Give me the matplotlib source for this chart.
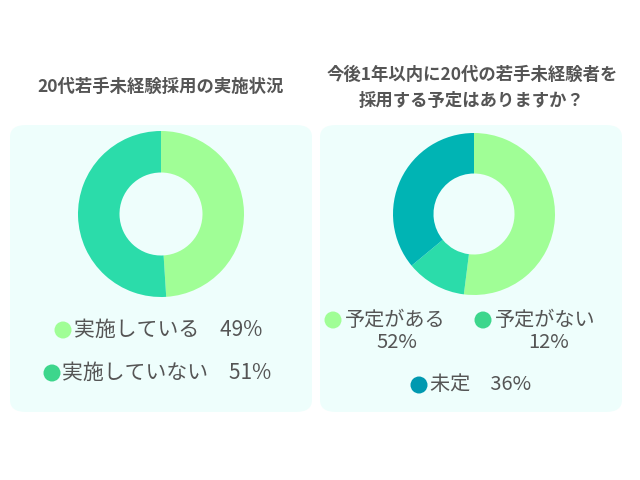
import matplotlib
matplotlib.use('Agg')
import matplotlib.pyplot as plt
from matplotlib.patches import FancyBboxPatch, Circle

plt.rcParams['font.family'] = ['Noto Sans CJK JP', 'DejaVu Sans']

# data for the two donuts
left_title = '20代若手未経験採用の実施状況'
left_labels = ['実施している', '実施していない']
left_values = [49, 51]

right_title = '今後1年以内に20代の若手未経験者を\n採用する予定はありますか？'
right_labels = ['予定がある', '予定がない', '未定']
right_values = [52, 12, 36]

slice_colors = ['#a0fe96', '#2bdcaa', '#00b4b4']
dot_colors = ['#a0fe96', '#3dd68c', '#0099b0']
panel_color = '#eefefc'
text_color = '#555555'

W, H = 640, 480
fig = plt.figure(figsize=(6.4, 4.8), dpi=100)
fig.patch.set_facecolor('white')


def px(x, y):
    # pixel coords (top-left origin) to figure fraction
    return x / W, 1 - y / H


def add_panel(x0, y0, x1, y1):
    fx, fy = px(x0, y1)
    box = FancyBboxPatch((fx, fy), (x1 - x0) / W, (y1 - y0) / H,
                         boxstyle='round,pad=0,rounding_size=0.025',
                         transform=fig.transFigure, facecolor=panel_color,
                         edgecolor='none', zorder=0)
    fig.patches.append(box)


def add_donut(cx, cy, r, values, colors):
    ax = fig.add_axes([(cx - r) / W, (H - cy - r) / H, 2 * r / W, 2 * r / H])
    ax.set_zorder(2)
    ax.patch.set_visible(False)
    ax.pie(values, colors=colors, startangle=90, counterclock=False,
           radius=1, wedgeprops=dict(width=0.5, edgecolor='none'))
    ax.set_xlim(-1, 1)
    ax.set_ylim(-1, 1)
    ax.set_aspect('equal')
    ax.axis('off')


def add_dot(x, y, color):
    # display coords; dpi=100 so pixels line up
    dot = Circle((x, H - y), 8.5, transform=None, facecolor=color,
                 edgecolor='none', zorder=3)
    fig.patches.append(dot)


def add_text(x, y, s, **kw):
    fx, fy = px(x, y)
    fig.text(fx, fy, s, color=text_color, **kw)


# panels
add_panel(10, 125, 312, 412)
add_panel(320, 125, 622, 412)

# titles
add_text(161, 87, left_title, ha='center', va='center', fontsize=12.5,
         fontweight='bold')
add_text(472, 88, right_title, ha='center', va='center', fontsize=12.5,
         fontweight='bold', linespacing=1.55)

# donuts
add_donut(161, 214, 83, left_values, slice_colors[:2])
add_donut(474, 214, 81, right_values, slice_colors)

# left legend
add_dot(63, 330, dot_colors[0])
add_text(74, 330, f'{left_labels[0]}　{left_values[0]}%', ha='left',
         va='center', fontsize=15)
add_dot(52, 373, dot_colors[1])
add_text(62, 373, f'{left_labels[1]}　{left_values[1]}%', ha='left',
         va='center', fontsize=15)

# right legend
add_dot(333, 320, dot_colors[0])
add_text(345, 320, right_labels[0], ha='left', va='center', fontsize=14.5)
add_text(397, 343, f'{right_values[0]}%', ha='center', va='center',
         fontsize=14.5)
add_dot(483, 320, dot_colors[1])
add_text(495, 320, right_labels[1], ha='left', va='center', fontsize=14.5)
add_text(549, 343, f'{right_values[1]}%', ha='center', va='center',
         fontsize=14.5)
add_dot(419, 385, dot_colors[2])
add_text(430, 385, f'{right_labels[2]}　{right_values[2]}%', ha='left',
         va='center', fontsize=14.5)

fig.savefig('out.png', dpi=100, facecolor='white')
